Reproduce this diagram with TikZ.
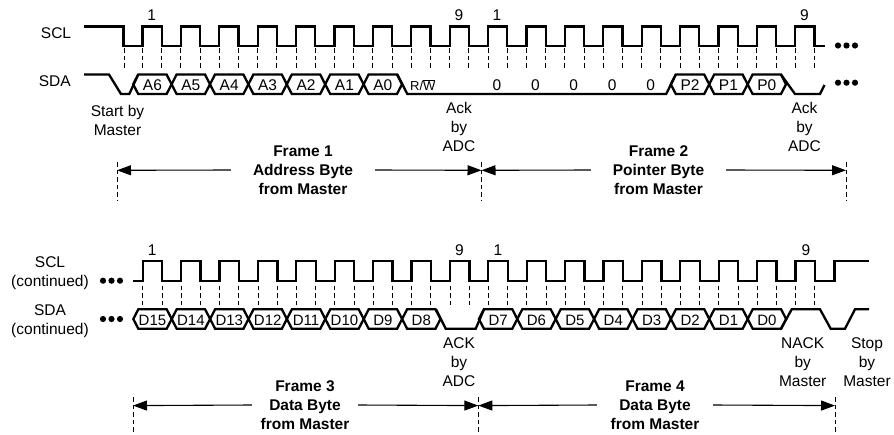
\documentclass[tikz,border=0pt]{standalone}
\usepackage{fontspec}
\setmainfont{Liberation Sans}
\usetikzlibrary{arrows.meta, positioning}

\begin{document}
\begin{tikzpicture}[
  x=1pt, y=-1pt,
  lbl/.style={font=\fontsize{15.5}{19}\selectfont, align=center, inner sep=0pt},
  frm/.style={lbl, font=\fontsize{15.5}{19}\selectfont\bfseries},
  wave/.style={line width=2.3pt},
  tick/.style={line width=1pt, dash pattern=on 4.5pt off 3pt},
  arr/.style={-{Triangle[length=14pt,width=10pt]}, line width=1.1pt}
]
\useasboundingbox (0,0) rectangle (894,434);

% first row
\node[lbl] (scl) at (56,32.7) {SCL};
\node[lbl] (sda) at (54.7,80.7) {SDA};
\draw[wave] (84,26.5) -- (123.5,26.5) -- (123.5,46)
  foreach \k in {0,...,17} {
    -- ({142.5+38.4*\k},46) -- ({142.5+38.4*\k},26.5)
    -- ({161.7+38.4*\k},26.5) -- ({161.7+38.4*\k},46)
  } -- (825,46);
\draw[tick] (124,48) -- (124,69);
\foreach \k in {0,...,17} {
  \draw[tick] ({142.5+38.4*\k},48) -- ({142.5+38.4*\k},69);
  \draw[tick] ({161.7+38.4*\k},48) -- ({161.7+38.4*\k},69);
}
\foreach \x/\t/\n in {151.7/1/a, 459/9/b, 497/1/c, 804.5/9/d}
  \node[lbl] (top\n) at (\x,15) {\t};
\foreach \k/\t in {0/A6,1/A5,2/A4,3/A3,4/A2,5/A1,6/A0,14/P2,15/P1,16/P0} {
  \pgfmathsetmacro\cx{133.2+38.4*\k}
  \draw[wave] (\cx,84.3) -- (\cx+5,74.5) -- (\cx+33.4,74.5) -- (\cx+38.4,84.3)
    -- (\cx+33.4,94) -- (\cx+5,94) -- cycle;
  \node[lbl] (\t) at (\cx+19.2,85) {\t};
}
\draw[wave] (84,74.5) -- (109,74.5) -- (121,94) -- (129.3,94) -- (138.2,74.5);
\draw[wave] (397.4,74.5) -- (407.3,94) -- (666.2,94) -- (675.8,74.5);
\draw[wave] (781,74.5) -- (795,94) -- (820,94) -- (824.5,85);
\node[lbl, font=\fontsize{13}{15}\selectfont] (rw) at (422.8,85) {R/$\overline{\mbox{W}}$};
\foreach \k in {0,...,4}
  \node[lbl] (zero\k) at ({497+38.4*\k},85) {0};
\foreach \y/\n in {45.5/u, 82.7/v}
  \foreach \x in {838,846.5,855}
    \fill (\x,\y) circle (3.1);
\node[lbl] (start) at (117.5,120) {Start by\\Master};
\node[lbl] (ack1) at (459,127) {Ack\\by\\ADC};
\node[lbl] (ack2) at (804.5,127) {Ack\\by\\ADC};

% frame 1 and 2
\node[frm, minimum width=144] (f1) at (303,170) {Frame 1\\Address Byte\\from Master};
\node[frm, minimum width=135] (f2) at (658.5,170) {Frame 2\\Pointer Byte\\from Master};
\foreach \x/\n in {117/t0, 481.5/t1, 846/t2} {
  \coordinate (\n) at (\x,170.3);
  \draw[tick] (\x,162) -- (\x,200);
}
\draw[arr] (f1.west) -- (t0);
\draw[arr] (f1.east) -- (t1);
\draw[arr] (f2.west) -- (t1);
\draw[arr] (f2.east) -- (t2);

% second row
\node[lbl] (sclb) at (50,272.7) {SCL\\(continued)};
\node[lbl] (sdab) at (50,321.2) {SDA\\(continued)};
\draw[wave] (133,280.7)
  foreach \k in {0,...,17} {
    -- ({142.7+38.4*\k},280.7) -- ({142.7+38.4*\k},261)
    -- ({162.2+38.4*\k},261) -- ({162.2+38.4*\k},280.7)
  } -- (834.5,280.7) -- (834.5,261) -- (869,261);
\foreach \k in {0,...,17} {
  \draw[tick] ({142.9+38.4*\k},285.5) -- ({142.9+38.4*\k},305);
  \draw[tick] ({162.1+38.4*\k},285.5) -- ({162.1+38.4*\k},305);
}
\foreach \x/\t/\n in {152.3/1/a, 459.5/9/b, 498/1/c, 806/9/d}
  \node[lbl] (bot\n) at (\x,250) {\t};
\foreach \k/\t in {0/D15,1/D14,2/D13,3/D12,4/D11,5/D10,6/D9,7/D8,9/D7,10/D6,11/D5,12/D4,13/D3,14/D2,15/D1,16/D0} {
  \pgfmathsetmacro\cx{133.3+38.4*\k}
  \draw[wave] (\cx,319) -- (\cx+5,309.3) -- (\cx+33.4,309.3) -- (\cx+38.4,319)
    -- (\cx+33.4,328.7) -- (\cx+5,328.7) -- cycle;
  \node[lbl, font=\fontsize{15}{19}\selectfont] (\t) at (\cx+19.2,320) {\t};
}
\draw[wave] (436,309.3) -- (445.7,328.7) -- (475.7,328.7) -- (484,309.3);
\draw[wave] (781,328.7) -- (791.7,309.3) -- (820,309.3) -- (830.7,328.7)
  -- (845,328.7) -- (855,309.3) -- (869,309.3);
\foreach \y/\n in {280.7/u, 319/v}
  \foreach \x in {103,111.5,120}
    \fill (\x,\y) circle (3.1);
\node[lbl] (ack3) at (459,362) {ACK\\by\\ADC};
\node[lbl] (nack) at (802.7,362) {NACK\\by\\Master};
\node[lbl] (stop) at (867,362) {Stop\\by\\Master};

% frame 3 and 4
\node[frm, minimum width=106] (f3) at (305,405) {Frame 3\\Data Byte\\from Master};
\node[frm, minimum width=116] (f4) at (655,405) {Frame 4\\Data Byte\\from Master};
\foreach \x/\n in {133/b0, 478.3/b1, 835/b2} {
  \coordinate (\n) at (\x,405.6);
  \draw[tick] (\x,397) -- (\x,434);
}
\draw[arr] (f3.west) -- (b0);
\draw[arr] (f3.east) -- (b1);
\draw[arr] (f4.west) -- (b1);
\draw[arr] (f4.east) -- (b2);
\end{tikzpicture}
\end{document}
